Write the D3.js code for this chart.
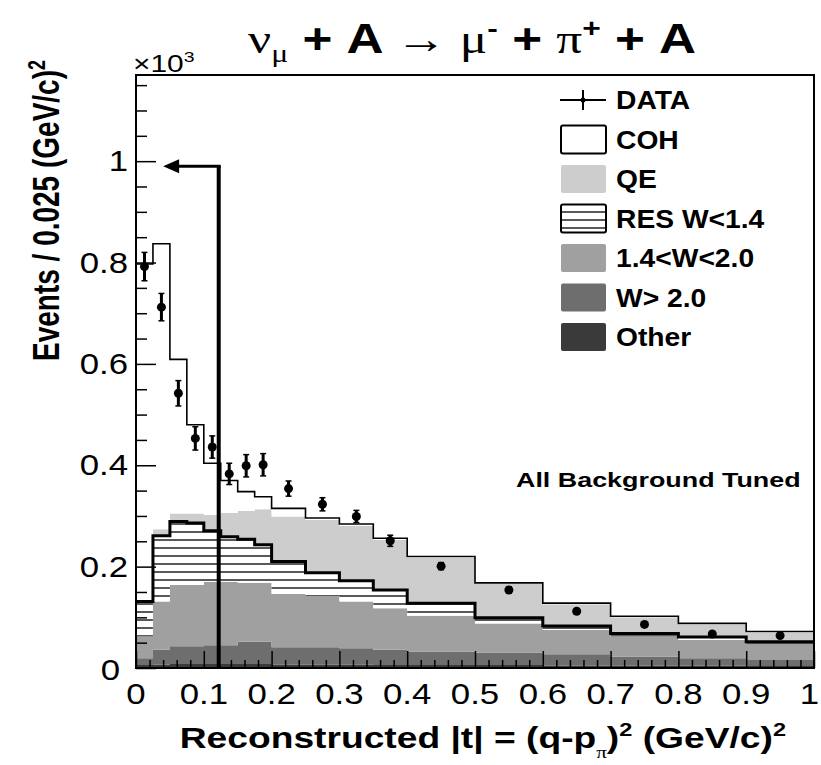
<!DOCTYPE html>
<html><head><meta charset="utf-8">
<script src="https://cdn.jsdelivr.net/npm/d3@7"></script>
<style>
body{margin:0;background:#fff}
text{font-family:"Liberation Sans",Arial,Helvetica,sans-serif;fill:#000}
</style>
</head><body>
<svg id="c" width="821" height="765"></svg>
<script>
// ---- data (units: x10^3 events / 0.025 (GeV/c)^2) ----
const binEdges = [0,0.025,0.05,0.075,0.1,0.125,0.15,0.175,0.2,0.25,0.3,0.35,0.4,0.5,0.6,0.7,0.8,0.9,1.0];
const otherVals = [0.006,0.007,0.008,0.008,0.008,0.008,0.008,0.008,0.007,0.007,0.007,0.006,0.006,0.006,0.005,0.005,0.005,0.004];
const w2Vals    = [0.013,0.029,0.035,0.035,0.037,0.037,0.044,0.044,0.034,0.034,0.032,0.030,0.026,0.024,0.022,0.017,0.014,0.012];
const w14Vals   = [0.043,0.095,0.121,0.121,0.125,0.125,0.116,0.116,0.105,0.101,0.092,0.082,0.071,0.058,0.048,0.040,0.036,0.031];
const resVals   = [0.069,0.130,0.125,0.122,0.101,0.089,0.086,0.075,0.064,0.046,0.041,0.036,0.025,0.011,0.008,0.006,0.006,0.005];
const qeVals    = [0.002,0.013,0.016,0.019,0.031,0.047,0.056,0.070,0.089,0.104,0.108,0.099,0.089,0.067,0.043,0.032,0.025,0.018];
const cohVals   = [0.664,0.563,0.304,0.175,0.102,0.064,0.038,0.025,0.016,0.004,0.004,0.003,0.003,0.002,0.002,0.002,0.002,0.002];
const dataVals  = [0.792,0.712,0.542,0.453,0.436,0.383,0.399,0.401,0.354,0.323,0.299,0.251,0.201,0.154,0.112,0.086,0.067,0.064];
const dataErr   = [0.028,0.027,0.025,0.023,0.022,0.021,0.022,0.022,0.015,0.013,0.012,0.011,0.007,0.006,0.005,0.005,0.004,0.004];
const xTickVals = [0,0.1,0.2,0.3,0.4,0.5,0.6,0.7,0.8,0.9,1];
const xTickLabels = ["0","0.1","0.2","0.3","0.4","0.5","0.6","0.7","0.8","0.9","1"];
const yTickVals = [0,0.2,0.4,0.6,0.8,1];
const yTickLabels = ["0","0.2","0.4","0.6","0.8","1"];
const layerKeys = ["other","w2","w14","res","qe","coh"];
const legendLabels = ["DATA","COH","QE","RES W<1.4","1.4<W<2.0","W> 2.0","Other"];
const cutValue = 0.122, arrowLevel = 0.99, arrowTip = 0.04;

// ---- setup ----
const svg = d3.select("#c");
const X0 = 136, X1 = 814, Y0 = 668, YT = 75;
const x = d3.scaleLinear().domain([0,1]).range([X0,X1]);
const y = d3.scaleLinear().domain([0,1.17]).range([Y0,YT]);
const serif = "'Liberation Serif','DejaVu Serif',serif";

const fills = {other:"#3a3a3a", w2:"#6e6e6e", w14:"#a0a0a0", res:"url(#hatch)", qe:"#cdcdcd", coh:"#ffffff"};

const defs = svg.append("defs");
const pat = defs.append("pattern").attr("id","hatch").attr("patternUnits","userSpaceOnUse")
  .attr("width",8).attr("height",8);
pat.append("rect").attr("width",8).attr("height",8).attr("fill","#fff");
pat.append("line").attr("x1",0).attr("x2",8).attr("y1",4).attr("y2",4).attr("stroke","#111").attr("stroke-width",1.4);

// horizontally stretched text helper
function sText(parent, tx, ty, sx, size, anchor, bold){
  return parent.append("g").attr("transform",`translate(${tx},${ty}) scale(${sx},1)`)
    .append("text").attr("x",0).attr("y",0).attr("text-anchor",anchor||"start")
    .attr("font-size",size).attr("font-weight",bold?"bold":"normal");
}

const rows = binEdges.slice(0,-1).map((e,i)=>({
  x0:e, x1:binEdges[i+1], other:otherVals[i], w2:w2Vals[i], w14:w14Vals[i],
  res:resVals[i], qe:qeVals[i], coh:cohVals[i]
}));
const stacked = d3.stack().keys(layerKeys)(rows);

function stepPts(layer){
  const pts = layer.map(d=>({x:d.data.x0, lo:d[0], hi:d[1]}));
  const last = layer[layer.length-1];
  pts.push({x:last.data.x1, lo:last[0], hi:last[1]});
  return pts;
}
const area = d3.area().curve(d3.curveStepAfter).x(d=>x(d.x)).y0(d=>y(d.lo)).y1(d=>y(d.hi));
const line = d3.line().curve(d3.curveStepAfter).x(d=>x(d.x)).y(d=>y(d.hi));

const plot = svg.append("g");
stacked.forEach(layer=>{
  plot.append("path").attr("d",area(stepPts(layer))).attr("fill",fills[layer.key]).attr("stroke","none");
});
const resLayer = stacked.find(l=>l.key==="res");
plot.append("path").attr("d",line(stepPts(resLayer))).attr("fill","none").attr("stroke","#000").attr("stroke-width",3);
const cohLayer = stacked.find(l=>l.key==="coh");
plot.append("path").attr("d",line(stepPts(cohLayer))).attr("fill","none").attr("stroke","#000").attr("stroke-width",1.6);

// axes ticks
const minorX = d3.range(0,1.0001,0.02).filter(v=>Math.abs(v*10-Math.round(v*10))>1e-6);
const minorY = d3.range(0,1.1701,0.05).filter(v=>Math.abs(v*5-Math.round(v*5))>1e-6);

const gx = svg.append("g").attr("transform",`translate(0,${Y0})`);
gx.call(d3.axisBottom(x).tickValues(minorX).tickSizeInner(-8).tickSizeOuter(0).tickFormat(""));
const gx2 = svg.append("g").attr("transform",`translate(0,${Y0})`);
gx2.call(d3.axisBottom(x).tickValues(xTickVals).tickSizeInner(-17).tickSizeOuter(0).tickFormat(""));
const gy = svg.append("g").attr("transform",`translate(${X0},0)`);
gy.call(d3.axisLeft(y).tickValues(minorY).tickSizeInner(-11).tickSizeOuter(0).tickFormat(""));
const gy2 = svg.append("g").attr("transform",`translate(${X0},0)`);
gy2.call(d3.axisLeft(y).tickValues(yTickVals).tickSizeInner(-20).tickSizeOuter(0).tickFormat(""));
[gx,gx2,gy,gy2].forEach(g=>{
  g.select(".domain").remove();
  g.selectAll(".tick line").attr("stroke","#000").attr("stroke-width",1.5);
});
// tick labels (stretched like the reference)
xTickVals.forEach((v,i)=>{
  const last = i===xTickVals.length-1;
  sText(svg, last ? x(v)+5 : x(v), 704, 1.2, 29, last ? "end" : "middle", false).text(xTickLabels[i]);
});
yTickVals.forEach((v,i)=>{
  sText(svg, v===0?120:128, y(v)+ (v===0?12:10), 1.2, 29, "end", false).text(yTickLabels[i]);
});

// frame
svg.append("rect").attr("x",X0).attr("y",YT).attr("width",X1-X0).attr("height",Y0-YT)
  .attr("fill","none").attr("stroke","#000").attr("stroke-width",2);

// data points
const dg = svg.append("g");
rows.forEach((r,i)=>{
  const cx = x((r.x0+r.x1)/2);
  dg.append("line").attr("x1",cx).attr("x2",cx).attr("y1",y(dataVals[i]-dataErr[i])).attr("y2",y(dataVals[i]+dataErr[i]))
    .attr("stroke","#000").attr("stroke-width",3);
  [dataVals[i]-dataErr[i], dataVals[i]+dataErr[i]].forEach(v=>{
    dg.append("line").attr("x1",cx-3).attr("x2",cx+3).attr("y1",y(v)).attr("y2",y(v)).attr("stroke","#000").attr("stroke-width",1.5);
  });
  dg.append("circle").attr("cx",cx).attr("cy",y(dataVals[i])).attr("r",4.5).attr("fill","#000");
});

// cut line and arrow
svg.append("line").attr("x1",x(cutValue)).attr("x2",x(cutValue)).attr("y1",y(0)).attr("y2",y(arrowLevel))
  .attr("stroke","#000").attr("stroke-width",4);
svg.append("line").attr("x1",x(cutValue)+2).attr("x2",x(arrowTip)+12).attr("y1",y(arrowLevel)).attr("y2",y(arrowLevel))
  .attr("stroke","#000").attr("stroke-width",3);
const ax = x(arrowTip), ay = y(arrowLevel);
svg.append("path").attr("d",`M${ax},${ay} L${ax+16},${ay-7} L${ax+16},${ay+7} Z`).attr("fill","#000");

// legend
const lg = svg.append("g");
const legFill = ["none","#fff","#cdcdcd","url(#hatch)","#a0a0a0","#6e6e6e","#3a3a3a"];
legendLabels.forEach((lab,i)=>{
  const cy = 100 + i*39.5;
  if(i===0){
    lg.append("line").attr("x1",560).attr("x2",606).attr("y1",cy).attr("y2",cy).attr("stroke","#000").attr("stroke-width",2);
    lg.append("line").attr("x1",583).attr("x2",583).attr("y1",cy-10).attr("y2",cy+10).attr("stroke","#000").attr("stroke-width",2);
    lg.append("circle").attr("cx",583).attr("cy",cy).attr("r",2.5).attr("fill","#000");
  } else {
    const r = lg.append("rect").attr("x",561).attr("y",cy-14).attr("width",45).attr("height",28).attr("rx",2)
      .attr("fill",legFill[i]);
    if(i===1||i===3) r.attr("stroke","#000").attr("stroke-width",2);
  }
  sText(lg, 616, cy+9, 1.13, 25, "start", true).text(lab);
});

// annotation
sText(svg, 516, 487, 1.28, 21, "start", true).text("All Background Tuned");

// x10^3
const e3 = sText(svg, 133, 72, 1.3, 23, "start", false);
e3.append("tspan").text("×10");
e3.append("tspan").attr("dy",-10).attr("font-size",15).text("3");

// title
const t = sText(svg, 472, 53, 1.22, 42, "middle", true);
t.append("tspan").attr("font-family",serif).attr("font-weight","normal").text("ν");
t.append("tspan").attr("font-family",serif).attr("font-weight","normal").attr("font-size",26).attr("dy",9).text("μ");
t.append("tspan").attr("dy",-9).text(" + A ");
t.append("tspan").attr("font-weight","normal").text("→");
t.append("tspan").attr("font-family",serif).attr("font-weight","normal").text(" μ");
t.append("tspan").attr("font-size",26).attr("dy",-16).text("-");
t.append("tspan").attr("dy",16).text(" + ");
t.append("tspan").attr("font-family",serif).attr("font-weight","normal").text("π");
t.append("tspan").attr("font-size",26).attr("dy",-16).text("+");
t.append("tspan").attr("dy",16).text(" + A");

// axis titles
const xt = sText(svg, 786, 748, 1.24, 30, "end", true);
xt.append("tspan").text("Reconstructed |t| = (q-p");
xt.append("tspan").attr("font-size",17).attr("dy",10).attr("font-family",serif).attr("font-weight","normal").text("π");
xt.append("tspan").attr("dy",-10).text(")");
xt.append("tspan").attr("font-size",19).attr("dy",-12).text("2");
xt.append("tspan").attr("dy",12).text(" (GeV/c)");
xt.append("tspan").attr("font-size",19).attr("dy",-12).text("2");

const yt = svg.append("g").attr("transform","translate(59,60) rotate(-90) scale(1,1.3)")
  .append("text").attr("text-anchor","end").attr("font-size",28).attr("font-weight","bold");
yt.append("tspan").text("Events / 0.025 (GeV/c)");
yt.append("tspan").attr("font-size",18).attr("dy",-11).text("2");
</script>
</body></html>
